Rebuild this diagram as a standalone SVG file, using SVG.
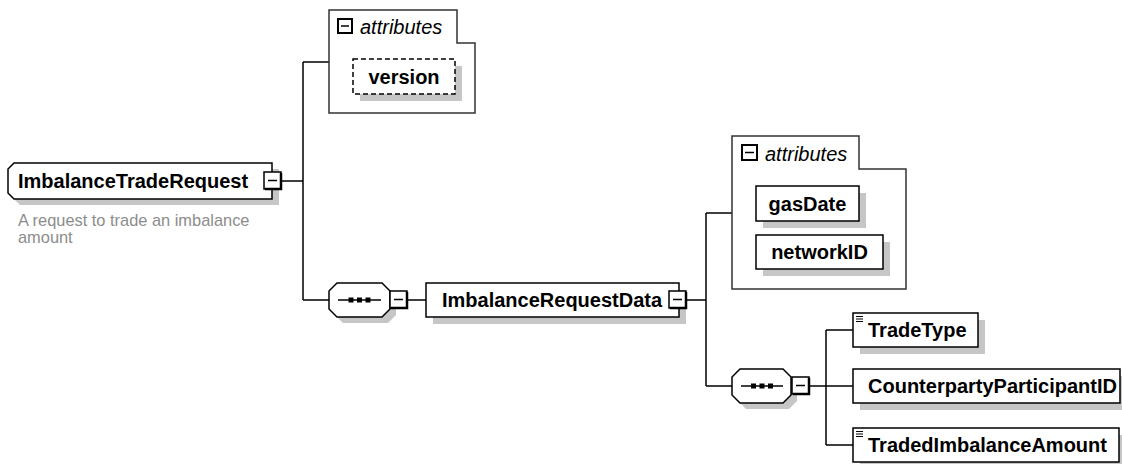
<svg xmlns="http://www.w3.org/2000/svg" width="1122" height="464" viewBox="0 0 1122 464">
<style>
.shadow{fill:#c6c6c6;stroke:none}
.box{fill:#fff;stroke:#000;stroke-width:1.5}
.dash{fill:#fff;stroke:#000;stroke-width:1.5;stroke-dasharray:5,3}
.attr{fill:#fff;stroke:#333;stroke-width:1.5}
.name{font-family:"Liberation Sans",Arial,sans-serif;font-weight:bold;font-size:20px;fill:#000}
.it{font-family:"Liberation Sans",Arial,sans-serif;font-style:italic;font-size:20px;fill:#000}
.desc{font-family:"Liberation Sans",Arial,sans-serif;font-size:16.4px;fill:#8c8c8c}
.conn{fill:none;stroke:#000;stroke-width:1.5}
.ico{fill:none;stroke:#000;stroke-width:1.2}
</style>
<defs>
<g id="minus">
<rect x="0" y="0" width="17" height="17" fill="#fff" stroke="#000" stroke-width="1.5"/>
<path d="M17,1 V17 H1" fill="none" stroke="#000" stroke-width="2.5"/>
<line x1="4" y1="8.5" x2="13" y2="8.5" stroke="#000" stroke-width="1.5"/>
</g>
<g id="seqdots">
<rect x="-11" y="-2.5" width="5" height="5" fill="#000"/>
<rect x="-2.5" y="-2.5" width="5" height="5" fill="#000"/>
<rect x="6" y="-2.5" width="5" height="5" fill="#000"/>
</g>
</defs>

<g id="connectors">
<path class="conn" d="M281,181 H303 M303,62 V300 M303,62 H329 M303,300 H329"/>
<path class="conn" d="M408,300 H426"/>
<path class="conn" d="M687,300 H706 M706,213 V386 M706,213 H732 M706,386 H732"/>
<path class="conn" d="M809,386 H826 M826,330 V445 M826,330 H853 M826,386 H853 M826,445 H853"/>
</g>

<g id="node-ImbalanceTradeRequest">
<path class="shadow" d="M20,169 H279 V205 H20 L14,199 V175 Z"/>
<path class="box" d="M14,163 H272 V199 H14 L8,193 V169 Z"/>
<text class="name" x="18" y="188">ImbalanceTradeRequest</text>
<use href="#minus" x="264" y="172"/>
<text class="desc" x="18" y="226">A request to trade an imbalance</text>
<text class="desc" x="18" y="243">amount</text>
</g>

<g id="node-attributes1">
<path class="attr" d="M329,10 H457 V43 H475 V113 H329 Z"/>
<rect x="338" y="19" width="14" height="14" fill="#fff" stroke="#000" stroke-width="2"/>
<line x1="341" y1="26" x2="349" y2="26" stroke="#000" stroke-width="1.5"/>
<text class="it" x="360" y="34">attributes</text>
</g>

<g id="node-version">
<rect class="shadow" x="360" y="66" width="102" height="35"/>
<rect class="dash" x="353" y="59" width="102" height="35"/>
<text class="name" x="404" y="83.5" text-anchor="middle">version</text>
</g>

<g id="node-sequence1">
<path class="shadow" d="M343,289 H388 L396,297 V315 L388,323 H343 L335,315 V297 Z"/>
<path class="box" d="M337,283 H382 L390,291 V309 L382,317 H337 L329,309 V291 Z"/>
<line x1="338" y1="300" x2="381" y2="300" stroke="#000" stroke-width="1.5"/>
<use href="#seqdots" x="359.5" y="300"/>
<use href="#minus" x="390" y="291"/>
</g>

<g id="node-ImbalanceRequestData">
<rect class="shadow" x="433" y="290" width="253" height="34"/>
<rect class="box" x="426" y="283" width="253" height="34"/>
<text class="name" x="442" y="307">ImbalanceRequestData</text>
<use href="#minus" x="669" y="291"/>
</g>

<g id="node-attributes2">
<path class="attr" d="M732,136 H859 V169 H906 V289 H732 Z"/>
<rect x="742" y="145" width="15" height="15" fill="#fff" stroke="#000" stroke-width="2"/>
<line x1="745" y1="152.5" x2="754" y2="152.5" stroke="#000" stroke-width="1.5"/>
<text class="it" x="765" y="161">attributes</text>
</g>

<g id="node-gasDate">
<rect class="shadow" x="763" y="193" width="103" height="35"/>
<rect class="box" x="756" y="186" width="103" height="35"/>
<text class="name" x="807.5" y="210.5" text-anchor="middle">gasDate</text>
</g>

<g id="node-networkID">
<rect class="shadow" x="763" y="242" width="127" height="34"/>
<rect class="box" x="756" y="235" width="127" height="34"/>
<text class="name" x="819.5" y="259" text-anchor="middle">networkID</text>
</g>

<g id="node-sequence2">
<path class="shadow" d="M746,375 H789 L797,383 V401 L789,409 H746 L738,401 V383 Z"/>
<path class="box" d="M740,369 H783 L791,377 V395 L783,403 H740 L732,395 V377 Z"/>
<line x1="741" y1="386" x2="783" y2="386" stroke="#000" stroke-width="1.5"/>
<use href="#seqdots" x="762" y="386"/>
<use href="#minus" x="792" y="377"/>
</g>

<g id="node-TradeType">
<rect class="shadow" x="860" y="320" width="125" height="34"/>
<rect class="box" x="853" y="313" width="125" height="34"/>
<path class="ico" d="M856,316.5 H863 M856,319 H863 M856,321.5 H863"/>
<text class="name" x="868" y="337">TradeType</text>
</g>

<g id="node-CounterpartyParticipantID">
<rect class="shadow" x="860" y="376" width="267" height="34"/>
<rect class="box" x="853" y="369" width="267" height="34"/>
<text class="name" x="868" y="393">CounterpartyParticipantID</text>
</g>

<g id="node-TradedImbalanceAmount">
<rect class="shadow" x="860" y="435" width="266" height="34"/>
<rect class="box" x="853" y="428" width="266" height="34"/>
<path class="ico" d="M856,431.5 H863 M856,434 H863 M856,436.5 H863"/>
<text class="name" x="868" y="452">TradedImbalanceAmount</text>
</g>
</svg>
